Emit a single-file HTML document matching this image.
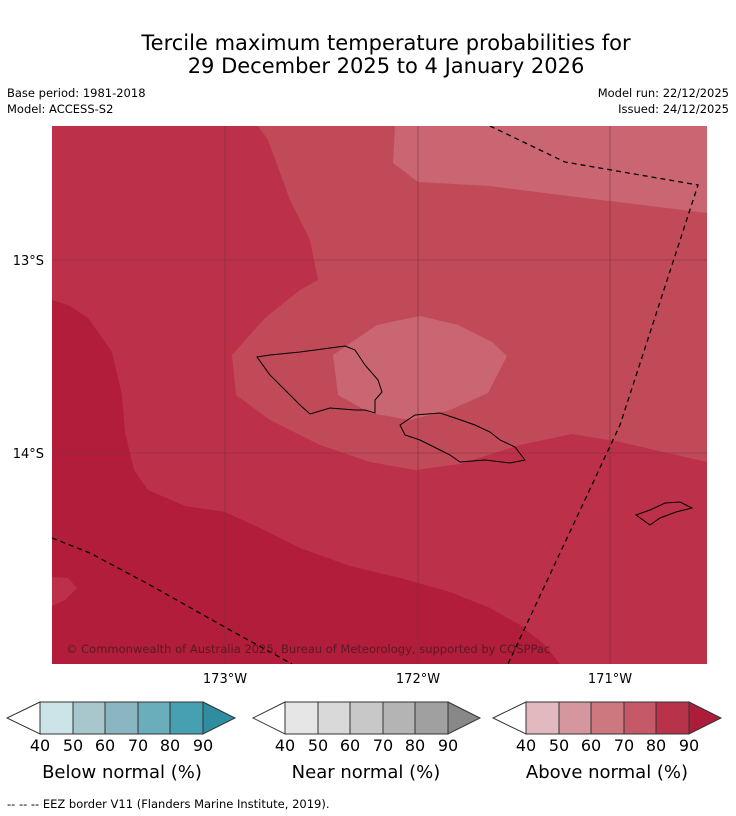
<!DOCTYPE html>
<html><head><meta charset="utf-8"><style>
body{margin:0;width:736px;height:816px;background:#fff;font-family:"DejaVu Sans","Liberation Sans",sans-serif;position:relative;overflow:hidden}
.t{position:absolute;white-space:nowrap}
</style></head><body>
<div class="t" style="left:0;width:772px;text-align:center;top:32px;font-size:21px;line-height:23px">Tercile maximum temperature probabilities for<br>29 December 2025 to 4 January 2026</div>
<div class="t" style="left:7px;top:85px;font-size:11.5px;line-height:16px">Base period: 1981-2018<br>Model: ACCESS-S2</div>
<div class="t" style="right:7px;top:85px;font-size:11.5px;line-height:16px;text-align:right">Model run: 22/12/2025<br>Issued: 24/12/2025</div>
<svg width="736" height="816" style="position:absolute;left:0;top:0">
<defs><clipPath id="c"><rect x="52" y="126" width="655" height="538"/></clipPath></defs>
<g clip-path="url(#c)">
<rect x="52" y="126" width="655" height="538" fill="#bc3149"/>
<path fill="#c04a58" d="M258,126 L268,140 L290,200 L310,240 L318,280 L300,290 L265,318 L232,355 L236,395 L270,420 L320,445 L370,462 L415,470 L460,464 L520,445 L572,434 L620,442 L707,462 L707,126Z"/>
<path fill="#c96671" d="M395,126 L393,163 L418,182 L490,186 L560,195 L707,213 L707,126Z"/>
<path fill="#c96671" d="M333,355 L377,325 L420,316 L458,325 L492,342 L507,356 L488,393 L450,410 L410,420 L370,413 L338,395Z"/>
<path fill="#b11d3a" d="M52,300 L68,305 L88,318 L112,352 L122,395 L125,432 L134,470 L148,490 L185,506 L225,512 L260,528 L300,548 L350,566 L400,578 L450,592 L490,608 L520,625 L545,645 L560,664 L52,664Z"/>
<path fill="#bc3149" d="M52,577 L68,578 L77,588 L65,600 L52,606Z"/>
<g stroke="#7a3040" stroke-width="0.6">
<line x1="225" y1="126" x2="225" y2="664"/><line x1="418" y1="126" x2="418" y2="664"/><line x1="610" y1="126" x2="610" y2="664"/>
<line x1="52" y1="260" x2="707" y2="260"/><line x1="52" y1="453" x2="707" y2="453"/></g>
<g fill="none" stroke="#000" stroke-width="1.3" stroke-dasharray="5,4">
<path d="M490,126 L565,162 L698,185 L620,425 L508,664"/><path d="M52,538 L90,553 L150,585 L230,630 L292,664"/></g>
<g fill="none" stroke="#000" stroke-width="1">
<path d="M257,357 L270,355 L300,352 L330,348 L345,346 L355,350 L365,365 L378,380 L382,392 L375,400 L375,413 L365,410 L355,410 L330,408 L310,414 L300,405 L285,390 L270,375Z"/>
<path d="M400,425 L415,415 L440,413 L455,418 L475,425 L490,432 L500,440 L515,447 L525,460 L510,463 L485,460 L460,462 L450,455 L440,450 L420,440 L405,435Z"/>
<path d="M636,515 L650,510 L665,503 L680,502 L692,508 L676,512 L660,518 L650,525Z"/>
</g>
<text x="66" y="653" font-size="11.5" fill="#5a1a25">© Commonwealth of Australia 2025, Bureau of Meteorology, supported by COSPPac</text>
</g>
<g font-size="13" fill="#000">
<text x="225" y="683" text-anchor="middle">173°W</text><text x="418" y="683" text-anchor="middle">172°W</text><text x="610" y="683" text-anchor="middle">171°W</text>
<text x="44" y="265" text-anchor="end">13°S</text><text x="44" y="458" text-anchor="end">14°S</text></g>
<g stroke="#333" stroke-width="1" font-size="16">
<g>
<polygon points="40,702 7,718 40,734" fill="#fff"/><rect x="40" y="702" width="33" height="32" fill="#cce3e8"/><rect x="73" y="702" width="32" height="32" fill="#a8c7cc"/><rect x="105" y="702" width="33" height="32" fill="#89b6c1"/><rect x="138" y="702" width="32" height="32" fill="#6aadbb"/><rect x="170" y="702" width="33" height="32" fill="#47a0b1"/><polygon points="203,702 235,718 203,734" fill="#2e8ea0"/>
</g>
<g>
<polygon points="285,702 253,718 285,734" fill="#fff"/><rect x="285" y="702" width="33" height="32" fill="#e6e6e6"/><rect x="318" y="702" width="32" height="32" fill="#d9d9d9"/><rect x="350" y="702" width="33" height="32" fill="#c8c8c8"/><rect x="383" y="702" width="32" height="32" fill="#b4b4b4"/><rect x="415" y="702" width="33" height="32" fill="#a0a0a0"/><polygon points="448,702 480,718 448,734" fill="#888"/>
</g>
<g>
<polygon points="526,702 493,718 526,734" fill="#fff"/><rect x="526" y="702" width="33" height="32" fill="#e1b9bf"/><rect x="559" y="702" width="32" height="32" fill="#d5969d"/><rect x="591" y="702" width="33" height="32" fill="#cd777f"/><rect x="624" y="702" width="32" height="32" fill="#c55968"/><rect x="656" y="702" width="33" height="32" fill="#b83249"/><polygon points="689,702 721,718 689,734" fill="#ae1c3b"/>
</g></g>
<g font-size="16" text-anchor="middle" fill="#000">
<text x="40" y="751">40</text><text x="73" y="751">50</text><text x="105" y="751">60</text><text x="138" y="751">70</text><text x="170" y="751">80</text><text x="203" y="751">90</text>
<text x="285" y="751">40</text><text x="318" y="751">50</text><text x="350" y="751">60</text><text x="383" y="751">70</text><text x="415" y="751">80</text><text x="448" y="751">90</text>
<text x="526" y="751">40</text><text x="559" y="751">50</text><text x="591" y="751">60</text><text x="624" y="751">70</text><text x="656" y="751">80</text><text x="689" y="751">90</text>
<text x="122" y="778" font-size="18">Below normal (%)</text><text x="366" y="778" font-size="18">Near normal (%)</text><text x="607" y="778" font-size="18">Above normal (%)</text>
</g>
<text x="7" y="808" font-size="11.5">--  --  -- EEZ border V11 (Flanders Marine Institute, 2019).</text>
</svg>
</body></html>
